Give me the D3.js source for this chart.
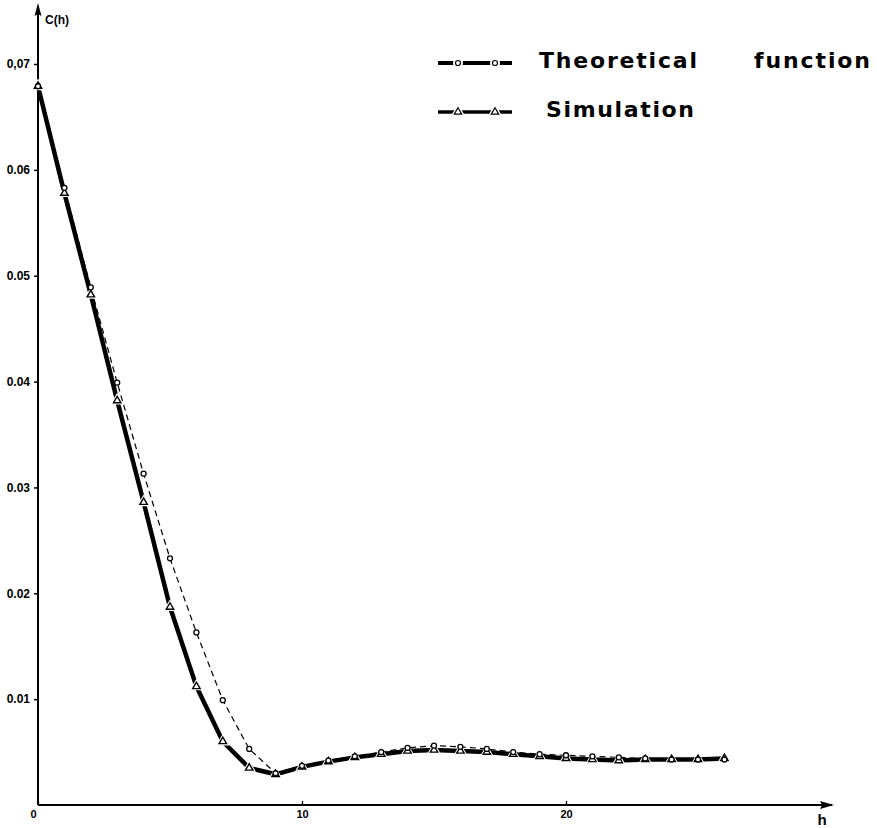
<!DOCTYPE html>
<html>
<head>
<meta charset="utf-8">
<script src="https://cdn.jsdelivr.net/npm/d3@7"></script>
<style>
  html, body { margin: 0; padding: 0; background: #fff; }
  svg { display: block; }
</style>
</head>
<body>
<svg id="chart" width="877" height="828"></svg>
<script>
// ---- data ----
const hValues = [0,1,2,3,4,5,6,7,8,9,10,11,12,13,14,15,16,17,18,19,20,21,22,23,24,25,26];
const theoretical = [0.0679,0.0583,0.0489,0.0399,0.0313,0.0233,0.0163,0.0099,0.0053,0.0030,
  0.0037,0.0042,0.0046,0.0050,0.0054,0.0056,0.0055,0.0053,0.0050,0.0048,
  0.0047,0.0046,0.0045,0.0044,0.0043,0.0043,0.0043];
const simulation = [0.0679,0.0578,0.0482,0.0382,0.0286,0.0187,0.0112,0.0060,0.0035,0.0029,
  0.0036,0.0041,0.0045,0.0048,0.0051,0.0052,0.0051,0.0050,0.0048,0.0046,
  0.0044,0.0043,0.0042,0.0043,0.0043,0.0043,0.0044];
const yTicks = [0.01,0.02,0.03,0.04,0.05,0.06,0.07];
const yTickLabels = ["0.01","0.02","0.03","0.04","0.05","0.06","0,07"];
const xTicks = [0,10,20];
const xTickLabels = ["0","10","20"];
const seriesNames = ["Theoretical", "function", "Simulation"];
const axisTitles = ["C(h)", "h"];

// ---- scales ----
const svg = d3.select("#chart");
const x = d3.scaleLinear().domain([0, 30]).range([38, 830]);
const y = d3.scaleLinear().domain([0, 0.07]).range([805, 64]);

// ---- axes ----
const yAxis = d3.axisLeft(y).tickValues(yTicks).tickSize(4).tickPadding(4)
  .tickFormat((d, i) => yTickLabels[i]);
const gy = svg.append("g").attr("transform", `translate(${x(0)},0)`).call(yAxis);
gy.select(".domain").remove();
gy.selectAll("line").attr("stroke", "#000").attr("stroke-width", 1.5);
gy.selectAll("text").attr("font-family", "Liberation Sans, Arial, sans-serif")
  .attr("font-weight", "bold").attr("font-size", 12).attr("fill", "#000");

const xAxis = d3.axisBottom(x).tickValues(xTicks).tickSizeInner(-4).tickSizeOuter(0).tickPadding(5)
  .tickFormat((d, i) => xTickLabels[i]);
const gx = svg.append("g").attr("transform", `translate(0,${y(0)})`).call(xAxis);
gx.select(".domain").remove();
gx.selectAll("line").attr("stroke", "#000").attr("stroke-width", 1.3);
gx.selectAll("text").attr("font-family", "Liberation Sans, Arial, sans-serif")
  .attr("font-weight", "bold").attr("font-size", 11).attr("fill", "#000");
gx.selectAll(".tick").filter(d => d === 0).select("text").attr("dx", -5);

// axis lines with arrows
svg.append("line").attr("x1", x(0)).attr("x2", 832).attr("y1", y(0)).attr("y2", y(0))
  .attr("stroke", "#000").attr("stroke-width", 2);
svg.append("path").attr("d", `M834,${y(0)} L820,${y(0)-4} L822,${y(0)} L820,${y(0)+4} Z`).attr("fill", "#000");
svg.append("line").attr("x1", x(0)).attr("x2", x(0)).attr("y1", y(0)).attr("y2", 6)
  .attr("stroke", "#000").attr("stroke-width", 2);
svg.append("path").attr("d", `M${x(0)},3 L${x(0)-3.5},16 L${x(0)},14 L${x(0)+3.5},16 Z`).attr("fill", "#000");

svg.append("text").attr("x", 45).attr("y", 24).text(axisTitles[0])
  .attr("font-family", "Liberation Sans, Arial, sans-serif").attr("font-weight", "bold").attr("font-size", 12);
svg.append("text").attr("x", 822).attr("y", 825).attr("text-anchor", "middle").text(axisTitles[1])
  .attr("font-family", "Liberation Sans, Arial, sans-serif").attr("font-weight", "bold").attr("font-size", 15);

// ---- lines ----
const theoData = hValues.map((h, i) => [h, theoretical[i]]);
const simData = hValues.map((h, i) => [h, simulation[i]]);
const line = d3.line().x(d => x(d[0])).y(d => y(d[1]));

// thin dashed line with circles
svg.append("path").datum(theoData).attr("d", line).attr("fill", "none")
  .attr("stroke", "#000").attr("stroke-width", 1.2).attr("stroke-dasharray", "6,4");

// thick line with triangles
svg.append("path").datum(simData).attr("d", line).attr("fill", "none")
  .attr("stroke", "#000").attr("stroke-width", 4.5).attr("stroke-linecap", "round");

const tri = d3.symbol().type(d3.symbolTriangle).size(24);
// halos for triangles (gaps in thick line)
svg.append("g").selectAll("path.halo").data(simData).join("path")
  .attr("transform", d => `translate(${x(d[0])},${y(d[1])})`)
  .attr("d", tri).attr("fill", "#fff").attr("stroke", "#fff").attr("stroke-width", 3.5);
svg.append("g").selectAll("path.tri").data(simData).join("path")
  .attr("transform", d => `translate(${x(d[0])},${y(d[1])})`)
  .attr("d", tri).attr("fill", "#fff").attr("stroke", "#000").attr("stroke-width", 1.4);

svg.append("g").selectAll("circle").data(theoData).join("circle")
  .attr("cx", d => x(d[0])).attr("cy", d => y(d[1])).attr("r", 2.5)
  .attr("fill", "#fff").attr("stroke", "#000").attr("stroke-width", 1.3);

// ---- legend ----
const legFont = "DejaVu Sans, Verdana, sans-serif";
function legendSample(yy, kind, sw) {
  svg.append("line").attr("x1", 438).attr("x2", 512).attr("y1", yy).attr("y2", yy)
    .attr("stroke", "#000").attr("stroke-width", sw);
  [458, 495].forEach(cx => {
    if (kind === "circle") {
      svg.append("circle").attr("cx", cx).attr("cy", yy).attr("r", 5).attr("fill", "#fff");
      svg.append("circle").attr("cx", cx).attr("cy", yy).attr("r", 2.5)
        .attr("fill", "#fff").attr("stroke", "#000").attr("stroke-width", 1.2);
    } else {
      svg.append("path").attr("transform", `translate(${cx},${yy})`).attr("d", tri)
        .attr("fill", "#fff").attr("stroke", "#fff").attr("stroke-width", 4);
      svg.append("path").attr("transform", `translate(${cx},${yy})`).attr("d", tri)
        .attr("fill", "#fff").attr("stroke", "#000").attr("stroke-width", 1.2);
    }
  });
}
legendSample(63, "circle", 4);
legendSample(112, "triangle", 3.5);

function legText(tx, ty, s, len) {
  svg.append("text").attr("x", tx).attr("y", ty).text(s)
    .attr("font-family", legFont).attr("font-weight", "bold").attr("font-size", 22)
    .attr("textLength", len).attr("lengthAdjust", "spacing").attr("fill", "#000");
}
legText(539, 68, seriesNames[0], 158);
legText(754, 68, seriesNames[1], 116);
legText(546, 117, seriesNames[2], 148);
</script>
</body>
</html>
